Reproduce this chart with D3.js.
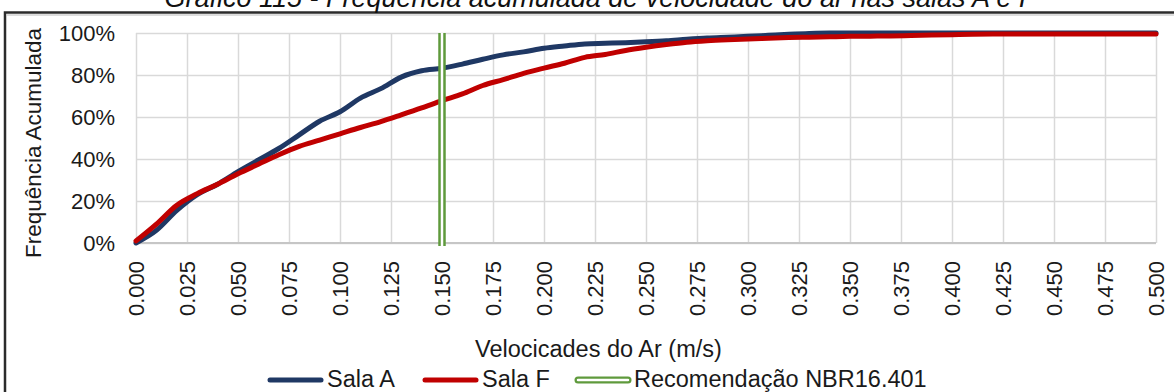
<!DOCTYPE html>
<html>
<head>
<meta charset="utf-8">
<script src="https://cdn.jsdelivr.net/npm/d3@7"></script>
<style>
  html, body { margin: 0; padding: 0; background: #fff; }
  svg { display: block; font-family: "Liberation Sans", Arial, sans-serif; }
</style>
</head>
<body>
<svg id="chart" width="1174" height="392"></svg>
<script>
// Air velocity bins (m/s)
const velocities = [0.00,0.01,0.02,0.03,0.04,0.05,0.06,0.07,0.08,0.09,
                    0.10,0.11,0.12,0.13,0.14,0.15,0.16,0.17,0.18,0.19,
                    0.20,0.21,0.22,0.23,0.24,0.25,0.26,0.27,0.28,0.29,
                    0.30,0.31,0.32,0.33,0.34,0.35,0.36,0.37,0.38,0.39,
                    0.40,0.41,0.42,0.43,0.44,0.45,0.46,0.47,0.48,0.49,0.50];

// Cumulative frequency (%) per room
const salaA = [0,6,15.5,23,28,34,39.5,45,51.5,58,
               62.5,69,73.5,79,82,83.2,85.2,87.5,89.6,91,
               92.7,93.8,94.8,95.1,95.4,95.8,96.3,97,97.6,98,
               98.4,98.9,99.4,99.8,100,100,100,100,100,100,
               100,100,100,100,100,100,100,100,100,100,100];
const salaF = [1,9,18,23.5,28,33,37.5,42,46,49,
               52,55,57.8,61,64.3,67.8,71,75,77.8,80.8,
               83.3,85.6,88.4,89.8,91.7,93.2,94.5,95.6,96.3,96.8,
               97.2,97.5,97.8,98,98.2,98.4,98.5,98.6,98.8,99,
               99.2,99.4,99.5,99.5,99.5,99.5,99.5,99.5,99.5,99.5,99.5];

// NBR 16.401 recommended maximum velocity (m/s)
const recomendacao = 0.150;

const xTicks = d3.range(0, 21).map(i => i * 0.025);
const yTicks = [0, 20, 40, 60, 80, 100];

const title = "Gráfico 115 - Frequência acumulada de velocidade do ar nas salas A e F";
const yTitle = "Frequência Acumulada";
const xTitle = "Velocicades do Ar (m/s)";
const legendItems = ["Sala A", "Sala F", "Recomendação NBR16.401"];

const colorA = "#1f3864";
const colorF = "#c00000";
const colorRec = "#5f9a3c";

const svg = d3.select("#chart");
const x = d3.scaleLinear().domain([0, 0.5]).range([136, 1156]);
const y = d3.scaleLinear().domain([0, 100]).range([243, 33]);

// outer chart frame
svg.append("rect")
  .attr("x", 5).attr("y", 12.5).attr("width", 1220).attr("height", 420)
  .attr("fill", "none").attr("stroke", "#2b2b2b").attr("stroke-width", 2.5);
svg.append("line").attr("x1", 7).attr("x2", 1174).attr("y1", 15).attr("y2", 15)
  .attr("stroke", "#bbb").attr("stroke-width", 1);

// title (upper part falls outside the frame)
svg.append("text")
  .attr("x", 600).attr("y", 7)
  .attr("text-anchor", "middle")
  .attr("font-size", 27).attr("font-style", "italic").attr("fill", "#111")
  .text(title);

// gridlines
svg.append("g")
  .attr("transform", `translate(0,${y(0)})`)
  .call(d3.axisBottom(x).tickValues(xTicks).tickSize(-(y(0) - y(100))).tickFormat(""))
  .call(g => g.select(".domain").remove())
  .call(g => g.selectAll(".tick line").attr("stroke", "#d9d9d9").attr("stroke-width", 1.5));
svg.append("g")
  .attr("transform", `translate(${x(0)},0)`)
  .call(d3.axisLeft(y).tickValues(yTicks).tickSize(-(x(0.5) - x(0))).tickFormat(""))
  .call(g => g.select(".domain").remove())
  .call(g => g.selectAll(".tick line").attr("stroke", "#d9d9d9").attr("stroke-width", 1.5));

// base axis line
svg.append("line")
  .attr("x1", x(0)).attr("x2", x(0.5)).attr("y1", y(0)).attr("y2", y(0))
  .attr("stroke", "#c6c6c6").attr("stroke-width", 2);

// x tick labels (rotated)
const xAxis = svg.append("g")
  .attr("transform", `translate(0,${y(0)})`)
  .call(d3.axisBottom(x).tickValues(xTicks).tickSize(0).tickFormat(d3.format(".3f")));
xAxis.select(".domain").remove();
xAxis.selectAll("text")
  .attr("transform", "rotate(-90)")
  .attr("x", -18).attr("y", 0).attr("dy", "0.35em")
  .attr("text-anchor", "end")
  .attr("font-size", 22).attr("fill", "#1a1a1a")
  .attr("font-family", "Liberation Sans, Arial, sans-serif");

// y tick labels
const yAxis = svg.append("g")
  .attr("transform", `translate(${x(0)},0)`)
  .call(d3.axisLeft(y).tickValues(yTicks).tickSize(0).tickFormat(d => d + "%"));
yAxis.select(".domain").remove();
yAxis.selectAll("text")
  .attr("x", -21).attr("dy", "0.35em")
  .attr("font-size", 22).attr("fill", "#1a1a1a")
  .attr("font-family", "Liberation Sans, Arial, sans-serif");

// axis titles
svg.append("text")
  .attr("transform", `translate(41,${(y(0) + y(100)) / 2 + 5}) rotate(-90)`)
  .attr("text-anchor", "middle")
  .attr("font-size", 22.5).attr("fill", "#1a1a1a")
  .text(yTitle);
svg.append("text")
  .attr("x", 475).attr("y", 357)
  .attr("font-size", 23.5).attr("fill", "#1a1a1a")
  .text(xTitle);

// cumulative frequency curves
const line = d3.line()
  .x(d => x(d[0]))
  .y(d => y(d[1]))
  .curve(d3.curveMonotoneX);

svg.append("path")
  .datum(velocities.map((v, i) => [v, salaA[i]]))
  .attr("fill", "none").attr("stroke", colorA).attr("stroke-width", 5)
  .attr("stroke-linejoin", "round").attr("stroke-linecap", "round")
  .attr("d", line);
svg.append("path")
  .datum(velocities.map((v, i) => [v, salaF[i]]))
  .attr("fill", "none").attr("stroke", colorF).attr("stroke-width", 5)
  .attr("stroke-linejoin", "round").attr("stroke-linecap", "round")
  .attr("d", line);

// recommendation marker: double green line
svg.append("line")
  .attr("x1", x(recomendacao)).attr("x2", x(recomendacao))
  .attr("y1", y(100)).attr("y2", y(0) + 3)
  .attr("stroke", colorRec).attr("stroke-width", 7.5);
svg.append("line")
  .attr("x1", x(recomendacao)).attr("x2", x(recomendacao))
  .attr("y1", y(100)).attr("y2", y(0) + 3)
  .attr("stroke", "#fff").attr("stroke-width", 2.5);

// legend
const legY = 380;
const legText = 387;
const leg = svg.append("g");
leg.append("line").attr("x1", 270).attr("x2", 321).attr("y1", legY).attr("y2", legY)
  .attr("stroke", colorA).attr("stroke-width", 5).attr("stroke-linecap", "round");
leg.append("text").attr("x", 327).attr("y", legText).attr("font-size", 23.5).attr("fill", "#1a1a1a").text(legendItems[0]);
leg.append("line").attr("x1", 425).attr("x2", 476).attr("y1", legY).attr("y2", legY)
  .attr("stroke", colorF).attr("stroke-width", 5).attr("stroke-linecap", "round");
leg.append("text").attr("x", 482).attr("y", legText).attr("font-size", 23.5).attr("fill", "#1a1a1a").text(legendItems[1]);
leg.append("line").attr("x1", 578).attr("x2", 628).attr("y1", legY).attr("y2", legY)
  .attr("stroke", colorRec).attr("stroke-width", 7).attr("stroke-linecap", "round");
leg.append("line").attr("x1", 578).attr("x2", 628).attr("y1", legY).attr("y2", legY)
  .attr("stroke", "#fff").attr("stroke-width", 2.5).attr("stroke-linecap", "round");
leg.append("text").attr("x", 634).attr("y", legText).attr("font-size", 23.5).attr("fill", "#1a1a1a").text(legendItems[2]);
</script>
</body>
</html>
